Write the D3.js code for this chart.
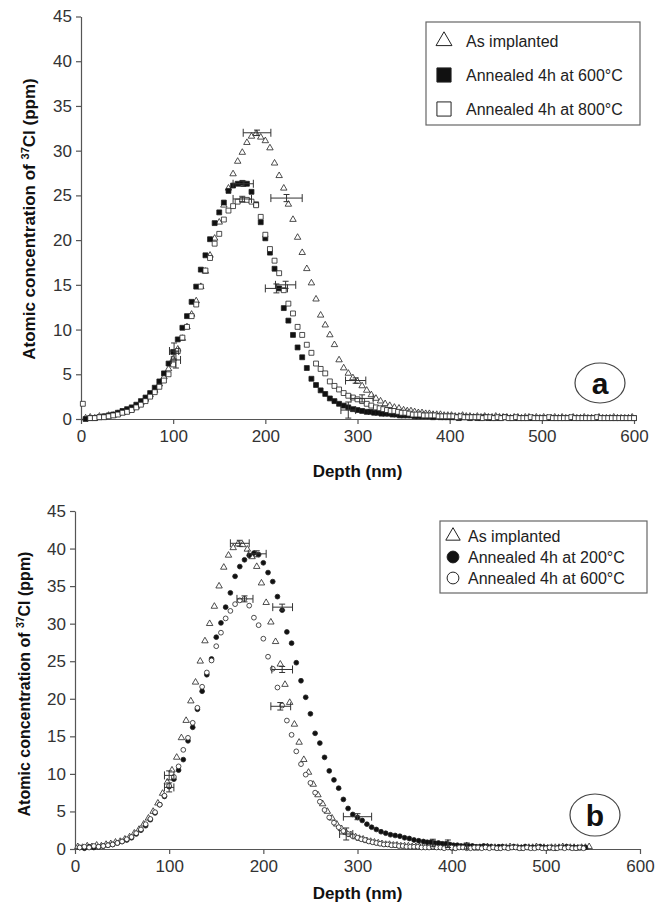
<!DOCTYPE html>
<html>
<head>
<meta charset="utf-8">
<script src="https://cdn.jsdelivr.net/npm/d3@7"></script>
<style>
  body { margin: 0; background: #fff; }
  svg { display: block; }
</style>
</head>
<body>
<div id="chart"></div>
<script>
// Tick labels
const X_TICKS = [0, 100, 200, 300, 400, 500, 600];
const Y_TICKS = [0, 5, 10, 15, 20, 25, 30, 35, 40, 45];

// Panel a: [depth nm, concentration ppm]
const aImplanted = [[5,0.1],[10,0.2],[15,0.1],[20,0.3],[25,0.2],[30,0.4],[35,0.4],[40,0.6],[45,0.7],[50,0.9],[55,1.1],[60,1.4],[65,1.8],[70,2.2],[75,2.7],[80,3.2],[85,3.9],[90,4.7],[95,5.6],[100,6.7],[105,7.8],[110,9.0],[115,10.3],[120,11.7],[125,13.2],[130,14.8],[135,16.5],[140,18.3],[145,20.2],[150,22.0],[155,23.9],[160,25.8],[165,27.4],[170,28.8],[175,29.8],[180,30.9],[185,31.6],[190,31.9],[195,31.5],[200,31.1],[205,30.3],[210,28.6],[215,27.2],[220,25.8],[225,24.0],[230,22.3],[235,20.3],[240,18.6],[245,16.8],[250,15.2],[255,13.4],[260,11.6],[265,10.5],[270,9.4],[275,8.3],[280,6.6],[285,5.7],[290,5.1],[295,4.6],[300,4.2],[305,3.7],[310,3.2],[315,2.7],[320,2.3],[325,2.0],[330,1.7],[335,1.5],[340,1.3],[345,1.2],[350,1.0],
  [354,0.9],[358,0.9],[362,0.8],[366,0.7],[370,0.7],[374,0.6],[378,0.6],[382,0.5],[386,0.5],[390,0.5],[394,0.4],[398,0.4],[402,0.4],[406,0.3],[410,0.3],[414,0.4],[418,0.3],[422,0.3],[426,0.2],[430,0.3],[434,0.2],[438,0.3],[442,0.2],[446,0.2],[450,0.3],[454,0.2],[458,0.2],[462,0.2],[466,0.1],[470,0.2],[474,0.2],[478,0.1],[482,0.2],[486,0.2],[490,0.1],[494,0.2],[498,0.1],[502,0.2],[506,0.1],[510,0.1],[514,0.2],[518,0.1],[522,0.2],[526,0.1],[530,0.1],[534,0.2],[538,0.1],[542,0.1],[546,0.2],[550,0.1],[554,0.1],[558,0.1],[562,0.2],[566,0.1],[570,0.1],[574,0.1],[578,0.2],[582,0.1],[586,0.1],[590,0.1],[594,0.1],[598,0.2]];
const a600 = [[5,0.0],[10,0.1],[15,0.1],[20,0.2],[25,0.3],[30,0.4],[35,0.5],[40,0.7],[45,0.9],[50,1.1],[55,1.3],[60,1.6],[65,2.0],[70,2.4],[75,2.9],[80,3.5],[85,4.2],[90,5.1],[95,6.2],[100,7.5],[105,8.9],[110,10.2],[115,11.5],[120,13.1],[125,14.8],[130,16.7],[135,18.3],[140,20.1],[145,21.9],[150,23.1],[155,24.2],[160,25.5],[165,26.1],[170,26.3],[175,26.4],[180,26.3],[185,25.4],[190,24.0],[195,22.0],[200,20.2],[205,18.6],[210,16.8],[215,14.6],[220,12.4],[225,11.0],[230,9.4],[235,8.0],[240,6.9],[245,5.7],[250,4.5],[255,3.8],[260,3.2],[265,2.8],[270,2.3],[275,2.0],[280,1.7],[285,1.5],[290,1.3],[295,1.1],[300,1.0],[305,0.9],[310,0.8],
  [314,0.8],[318,0.7],[322,0.7],[326,0.6],[330,0.6],[334,0.6],[338,0.5],[342,0.5],[346,0.4],[350,0.4],[354,0.4],[358,0.4],[362,0.3],[366,0.3],[370,0.3],[374,0.3],[378,0.3],[382,0.2],[386,0.3],[390,0.2],[394,0.2],[398,0.2],[402,0.2],[406,0.2],[410,0.1],[414,0.2],[418,0.2],[422,0.1],[426,0.2],[430,0.1],[434,0.1],[438,0.2],[442,0.1],[446,0.1],[450,0.1],[455,0.1],[460,0.2],[465,0.1],[470,0.1],[475,0.1],[480,0.1],[485,0.1],[490,0.1],[495,0.1],[500,0.1],[505,0.1],[510,0.1],[515,0.1],[520,0.1],[525,0.1],[530,0.1],[535,0.1],[540,0.1],[545,0.1],[550,0.1],[555,0.1],[560,0.1],[565,0.1],[570,0.1],[575,0.1],[580,0.1],[585,0.1],[590,0.1],[595,0.1],[600,0.1]];
const a800 = [[2,1.7],[10,0.1],[15,0.1],[20,0.2],[25,0.2],[30,0.3],[35,0.4],[40,0.5],[45,0.7],[50,0.8],[55,1.0],[60,1.3],[65,1.6],[70,2.0],[75,2.5],[80,3.0],[85,3.6],[90,4.3],[95,5.0],[100,6.1],[105,7.6],[110,9.1],[115,10.3],[120,11.5],[125,12.8],[130,14.8],[135,16.6],[140,18.0],[145,19.6],[150,20.7],[155,22.3],[160,23.3],[165,23.8],[170,24.3],[175,24.5],[180,24.5],[185,24.3],[190,23.9],[195,22.6],[200,20.6],[205,19.0],[210,17.7],[215,16.3],[220,14.4],[225,12.9],[230,11.8],[235,10.3],[240,9.4],[245,8.3],[250,7.4],[255,6.2],[260,5.6],[265,5.1],[270,4.2],[275,3.7],[280,3.3],[285,2.9],[290,2.6],[295,2.4],[300,2.2],[305,2.0],[310,1.7],[315,1.5],[320,1.3],
  [324,1.2],[328,1.1],[332,1.0],[336,0.9],[340,0.9],[344,0.8],[348,0.7],[352,0.7],[356,0.6],[360,0.5],[364,0.5],[368,0.5],[372,0.4],[376,0.4],[380,0.4],[384,0.4],[388,0.3],[392,0.3],[396,0.3],[400,0.3],[404,0.3],[408,0.2],[412,0.3],[416,0.2],[420,0.2],[424,0.2],[428,0.2],[432,0.2],[436,0.1],[440,0.2],[444,0.2],[448,0.1],[452,0.2],[456,0.1],[460,0.2],[464,0.1],[468,0.1],[472,0.2],[476,0.1],[480,0.1],[484,0.1],[488,0.2],[492,0.1],[496,0.1],[500,0.1],[504,0.1],[508,0.2],[512,0.1],[516,0.1],[520,0.1],[524,0.1],[528,0.1],[532,0.2],[536,0.1],[540,0.1],[544,0.1],[548,0.1],[552,0.1],[556,0.1],[560,0.2],[564,0.1],[568,0.1],[572,0.1],[576,0.1],[580,0.1],[584,0.1],[588,0.1],[592,0.1],[596,0.1],[600,0.1]];

// Panel a error bars: [depth, value, minus depth, plus depth, value error]
const aImplantedErr = [[191,32.0,15,15,0.3],[223,24.7,17,17,0.4],[298,4.3,11,11,0.3]];
const a600Err = [[176,26.3,11,11,0.3],[212,14.6,12,12,0.5],[101,7.6,5,5,0.9],[290,1.0,8,8,0.9]];
const a800Err = [[175,24.6,10,10,0.3],[222,15.0,11,11,0.4],[103,6.6,5,5,0.9],[305,2.3,12,12,0.4]];

// Panel b
const bImplanted = [[3,0.3],[8,0.2],[13,0.4],[18,0.3],[23,0.5],[28,0.4],[33,0.6],[38,0.7],[43,0.9],[48,1.0],[53,1.3],[58,1.6],[63,2.1],[68,2.6],[73,3.3],[78,4.1],[83,5.0],[88,6.1],[93,7.4],[98,8.9],[103,10.5],[108,12.2],[113,14.8],[118,17.1],[123,19.7],[128,22.2],[133,25.0],[138,27.7],[143,30.0],[148,32.3],[153,35.0],[158,37.5],[163,39.1],[168,40.1],[173,40.6],[178,40.5],[183,39.9],[188,38.9],[193,37.6],[198,35.4],[203,32.8],[208,30.2],[213,27.6],[218,24.6],[223,21.9],[228,19.5],[233,16.6],[238,14.2],[243,11.9],[248,10.2],[253,8.6],[258,7.2],[263,6.0],[268,5.0],[273,4.1],[278,3.3],[283,2.7],[288,2.2],[293,1.9],[298,1.6],
  [302,1.4],[306,1.3],[310,1.1],[314,1.0],[318,0.9],[322,0.8],[326,0.7],[330,0.6],[334,0.6],[338,0.5],[342,0.5],[346,0.4],[350,0.4],[354,0.4],[358,0.3],[362,0.3],[366,0.3],[370,0.3],[374,0.2],[378,0.3],[382,0.2],[386,0.2],[390,0.3],[394,0.2],[398,0.2],[402,0.1],[406,0.2],[410,0.2],[414,0.3],[418,0.2],[422,0.2],[426,0.1],[430,0.2],[434,0.2],[438,0.3],[442,0.2],[446,0.2],[450,0.1],[454,0.2],[458,0.2],[462,0.3],[466,0.2],[470,0.2],[474,0.1],[478,0.2],[482,0.2],[486,0.2],[490,0.3],[494,0.2],[498,0.2],[502,0.1],[506,0.2],[510,0.2],[514,0.2],[518,0.3],[522,0.2],[526,0.2],[530,0.2],[534,0.1],[538,0.2],[542,0.2],[546,0.3]];
const b200 = [[5,0.2],[10,0.1],[15,0.3],[20,0.2],[25,0.3],[30,0.4],[35,0.5],[40,0.6],[45,0.8],[50,1.0],[55,1.2],[60,1.5],[65,2.0],[70,2.5],[75,3.1],[80,3.9],[85,4.8],[90,5.9],[95,7.0],[100,8.3],[105,9.3],[110,10.5],[115,11.9],[120,14.4],[125,16.2],[130,18.6],[135,21.0],[140,23.2],[145,25.3],[150,28.2],[155,30.1],[160,32.2],[165,34.1],[170,36.3],[175,37.6],[180,38.5],[185,39.1],[190,39.4],[195,39.2],[200,38.1],[205,36.8],[210,35.6],[215,33.6],[220,31.8],[225,28.9],[230,27.4],[235,24.8],[240,22.4],[245,20.2],[250,18.0],[255,15.4],[260,14.1],[265,12.2],[270,10.4],[275,9.2],[280,8.1],[285,6.6],[290,5.4],[295,4.6],[300,4.2],[305,3.8],[310,3.3],[315,2.9],[320,2.6],[325,2.3],[330,2.1],[335,1.9],[340,1.8],[345,1.7],[350,1.5],[355,1.4],[360,1.2],[365,1.1],[370,1.0],
  [374,0.9],[378,0.9],[382,0.8],[386,0.8],[390,0.7],[394,0.7],[398,0.6],[402,0.5],[406,0.5],[410,0.4],[414,0.4],[418,0.4],[422,0.4],[426,0.3],[430,0.3],[434,0.4],[438,0.3],[442,0.3],[446,0.2],[450,0.3],[454,0.3],[458,0.2],[462,0.2],[466,0.3],[470,0.2],[474,0.2],[478,0.3],[482,0.2],[486,0.2],[490,0.2],[494,0.3],[498,0.2],[502,0.2],[506,0.2],[510,0.1],[514,0.2],[518,0.2],[522,0.3],[526,0.2],[530,0.2],[534,0.2],[538,0.2],[542,0.2]];
const b600 = [[5,0.2],[10,0.3],[15,0.2],[20,0.4],[25,0.3],[30,0.4],[35,0.5],[40,0.6],[45,0.8],[50,1.0],[55,1.3],[60,1.6],[65,2.1],[70,2.6],[75,3.3],[80,4.0],[85,4.9],[90,5.9],[95,7.1],[100,8.4],[105,9.6],[110,11.0],[115,13.2],[120,14.8],[125,16.8],[130,18.8],[135,21.6],[140,23.5],[145,25.1],[150,27.0],[155,28.8],[160,30.7],[165,31.7],[170,32.6],[175,33.1],[180,33.3],[185,32.4],[190,30.8],[195,29.8],[200,28.0],[205,25.6],[210,24.0],[215,21.5],[220,19.1],[225,17.1],[230,15.2],[235,13.0],[240,11.3],[245,9.9],[250,8.8],[255,7.5],[260,6.3],[265,5.2],[270,4.2],[275,3.5],[280,2.9],[285,2.4],[290,2.0],[295,1.7],[300,1.5],
  [304,1.3],[308,1.2],[312,1.0],[316,0.9],[320,0.8],[324,0.7],[328,0.6],[332,0.6],[336,0.5],[340,0.5],[344,0.4],[348,0.4],[352,0.3],[356,0.3],[360,0.3],[364,0.3],[368,0.2],[372,0.2],[376,0.2],[380,0.3],[384,0.2],[388,0.2],[392,0.1],[396,0.2],[400,0.2],[404,0.1],[408,0.2],[412,0.2],[416,0.1],[420,0.1],[424,0.2],[428,0.2],[432,0.1],[436,0.2],[440,0.1],[444,0.2],[448,0.1],[452,0.1],[456,0.2],[460,0.1],[464,0.2],[468,0.2],[472,0.1],[476,0.1],[480,0.2],[484,0.1],[488,0.1],[492,0.2],[496,0.1],[500,0.1],[504,0.2],[508,0.1],[512,0.1],[516,0.2],[520,0.1],[524,0.2],[528,0.1],[532,0.1],[536,0.2],[540,0.1]];

const bImplantedErr = [[175,40.7,10,10,0.4],[220,23.9,11,11,0.4],[100,9.8,5,5,0.6]];
const b200Err = [[193,39.3,9,10,0.4],[220,32.2,10,11,0.4],[300,4.3,15,15,0.4],[100,8.2,5,5,0.6],[380,0.8,0,0,0.5],[396,0.7,0,0,0.5],[416,0.4,0,0,0.4]];
const b600Err = [[180,33.3,8,9,0.4],[218,19.0,10,11,0.5],[288,2.0,7,7,0.8]];

const FONT = '"Liberation Sans", Arial, sans-serif';

const svg = d3.select('#chart')
    .append('svg')
    .attr('width', 664)
    .attr('height', 907)
    .style('font-family', FONT);

function drawPanel(p) {
    const x = d3.scaleLinear().domain([0, 600]).range([p.left, p.right]);
    const y = d3.scaleLinear().domain([0, 45]).range([p.bottom, p.top]);
    const g = svg.append('g');

    // Axes
    const yAxis = g.append('g')
        .attr('transform', `translate(${p.left},0)`)
        .call(d3.axisLeft(y).tickValues(Y_TICKS).tickSize(5).tickSizeOuter(0).tickPadding(4));
    const xAxis = g.append('g')
        .attr('transform', `translate(0,${p.bottom})`)
        .call(d3.axisBottom(x).tickValues(X_TICKS).tickSize(5).tickSizeOuter(0).tickPadding(6));
    [yAxis, xAxis].forEach(a => {
        a.attr('font-family', FONT).attr('font-size', 17);
        a.selectAll('path, line').attr('stroke', '#555').attr('stroke-width', 1.2);
        a.selectAll('text').attr('fill', '#333');
    });

    // Axis titles
    g.append('text')
        .attr('x', (p.left + p.right) / 2)
        .attr('y', p.xTitleY)
        .attr('text-anchor', 'middle')
        .attr('font-weight', 'bold')
        .attr('font-size', 17)
        .attr('fill', '#111')
        .text('Depth (nm)');

    const yt = g.append('text')
        .attr('transform', `translate(${p.yTitleX},${p.yTitleY}) rotate(-90)`)
        .attr('text-anchor', 'middle')
        .attr('font-weight', 'bold')
        .attr('font-size', p.yTitleSize)
        .attr('fill', '#111');
    yt.append('tspan').text('Atomic concentration of ');
    yt.append('tspan').attr('font-size', p.yTitleSize * 0.65).attr('dy', -6).text('37');
    yt.append('tspan').attr('dy', 6).text('Cl (ppm)');

    // Series markers
    p.series.forEach(s => {
        const sym = d3.symbol().type(s.shape).size(s.size);
        g.append('g').selectAll('path')
            .data(s.data)
            .enter().append('path')
            .attr('transform', d => `translate(${x(d[0])},${y(d[1])})`)
            .attr('d', sym)
            .attr('fill', s.fill)
            .attr('stroke', '#222')
            .attr('stroke-width', 0.8);
    });

    // Error bars
    p.series.forEach(s => {
        const eg = g.append('g').attr('stroke', '#333').attr('stroke-width', 1).attr('fill', 'none');
        s.err.forEach(e => {
            const cx = x(e[0]), cy = y(e[1]);
            const x0 = x(e[0] - e[2]), x1 = x(e[0] + e[3]);
            const y0 = y(e[1] - e[4]), y1 = y(e[1] + e[4]);
            eg.append('line').attr('x1', x0).attr('x2', x1).attr('y1', cy).attr('y2', cy);
            eg.append('line').attr('x1', x0).attr('x2', x0).attr('y1', cy - 4).attr('y2', cy + 4);
            eg.append('line').attr('x1', x1).attr('x2', x1).attr('y1', cy - 4).attr('y2', cy + 4);
            eg.append('line').attr('x1', cx).attr('x2', cx).attr('y1', y0).attr('y2', y1);
            eg.append('line').attr('x1', cx - 3).attr('x2', cx + 3).attr('y1', y0).attr('y2', y0);
            eg.append('line').attr('x1', cx - 3).attr('x2', cx + 3).attr('y1', y1).attr('y2', y1);
        });
    });

    // Legend
    const L = p.legend;
    const lg = g.append('g');
    lg.append('rect')
        .attr('x', L.x).attr('y', L.y).attr('width', L.w).attr('height', L.h)
        .attr('fill', '#fff').attr('stroke', '#666').attr('stroke-width', 1.2);
    p.series.forEach((s, i) => {
        const ry = L.y + L.first + i * L.step;
        lg.append('path')
            .attr('transform', `translate(${L.x + L.symX},${ry})`)
            .attr('d', d3.symbol().type(s.shape).size(s.legendSize))
            .attr('fill', s.fill).attr('stroke', '#222').attr('stroke-width', 1);
        lg.append('text')
            .attr('x', L.x + L.textX).attr('y', ry)
            .attr('dy', '0.36em')
            .attr('font-size', 16)
            .attr('fill', '#222')
            .text(s.name);
    });

    // Panel tag
    g.append('ellipse')
        .attr('cx', p.tag.cx).attr('cy', p.tag.cy).attr('rx', p.tag.rx).attr('ry', p.tag.ry)
        .attr('fill', '#fff').attr('stroke', '#444').attr('stroke-width', 1.2);
    g.append('text')
        .attr('x', p.tag.cx).attr('y', p.tag.cy)
        .attr('dy', '0.36em')
        .attr('text-anchor', 'middle')
        .attr('font-weight', 'bold')
        .attr('font-size', 30)
        .attr('fill', '#111')
        .text(p.tag.text);
}

drawPanel({
    left: 81, right: 634, top: 16.5, bottom: 419,
    xTitleY: 477, yTitleX: 35, yTitleY: 219, yTitleSize: 17,
    series: [
        { name: 'As implanted', data: aImplanted, err: aImplantedErr, shape: d3.symbolTriangle, fill: '#fff', size: 18, legendSize: 110 },
        { name: 'Annealed 4h at 600°C', data: a600, err: a600Err, shape: d3.symbolSquare, fill: '#111', size: 24, legendSize: 200 },
        { name: 'Annealed 4h at 800°C', data: a800, err: a800Err, shape: d3.symbolSquare, fill: '#fff', size: 24, legendSize: 200 }
    ],
    legend: { x: 426, y: 22, w: 214, h: 103, first: 19, step: 34, symX: 18, textX: 40 },
    tag: { cx: 600, cy: 383, rx: 25, ry: 20, text: 'a' }
});

drawPanel({
    left: 75, right: 640, top: 511, bottom: 849,
    xTitleY: 899, yTitleX: 30, yTitleY: 684, yTitleSize: 16,
    series: [
        { name: 'As implanted', data: bImplanted, err: bImplantedErr, shape: d3.symbolTriangle, fill: '#fff', size: 18, legendSize: 90 },
        { name: 'Annealed 4h at 200°C', data: b200, err: b200Err, shape: d3.symbolCircle, fill: '#111', size: 18, legendSize: 110 },
        { name: 'Annealed 4h at 600°C', data: b600, err: b600Err, shape: d3.symbolCircle, fill: '#fff', size: 18, legendSize: 110 }
    ],
    legend: { x: 440, y: 521, w: 207, h: 72, first: 15, step: 21, symX: 13, textX: 28 },
    tag: { cx: 595, cy: 815, rx: 25, ry: 21, text: 'b' }
});
</script>
</body>
</html>
